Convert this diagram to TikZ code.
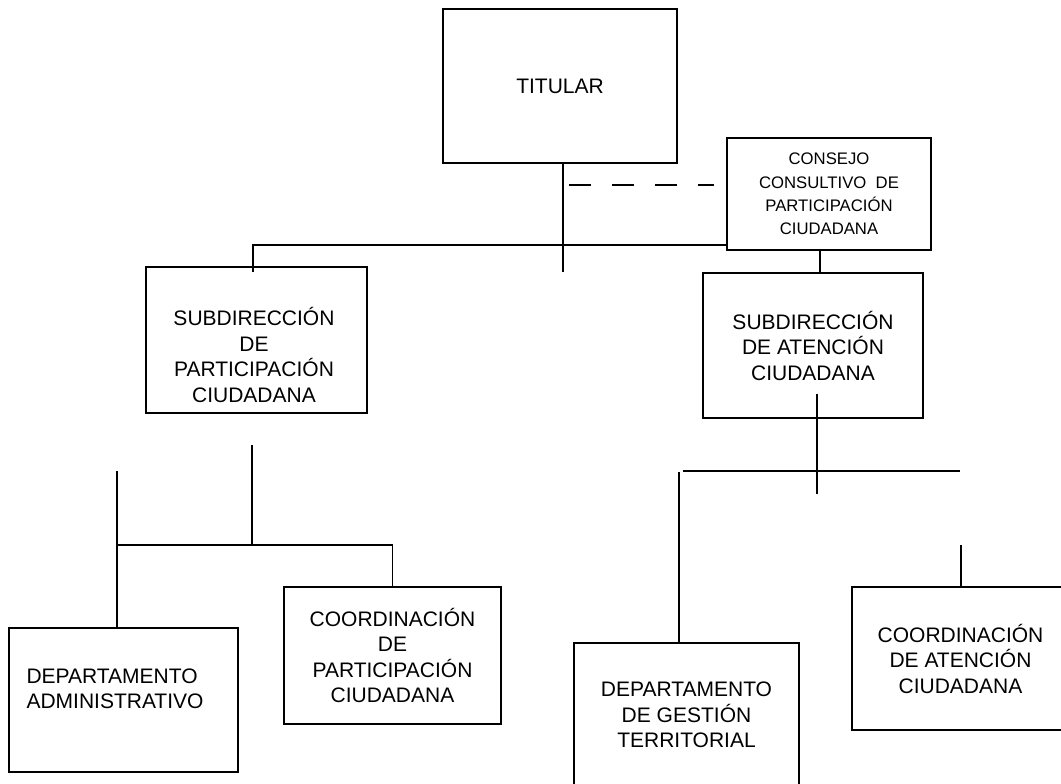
\documentclass[tikz,border=0pt]{standalone}
\usepackage{fontspec}
\setmainfont{Liberation Sans}
\begin{document}
\begin{tikzpicture}[x=1pt,y=-1pt,line width=1.4pt,
    caja/.style={draw,rectangle,inner sep=0pt,align=center,
      font=\fontsize{21}{25.5}\selectfont},
    texto/.style={inner sep=0pt,font=\fontsize{21}{25.5}\selectfont},
    rayas/.style={dash pattern=on 22pt off 21pt}]
  \useasboundingbox (0,0) rectangle (1061,784);
  \clip (0,0) rectangle (1061,784);

  % Cajas del organigrama
  \node[caja,minimum width=234pt,minimum height=154pt] (titular) at (560,86) {TITULAR};
  \node[caja,minimum width=204pt,minimum height=112pt,
    font=\fontsize{16.7}{23.3}\selectfont] (consejo) at (829,194)
    {CONSEJO\\CONSULTIVO\ \ DE\\PARTICIPACIÓN\\CIUDADANA};
  \node[caja,minimum width=221pt,minimum height=146pt] (subPart) at (256.5,340) {};
  \node[texto,align=center] (subPartTxt) at (254,355)
    {SUBDIRECCIÓN\\DE\\PARTICIPACIÓN\\CIUDADANA};
  \node[caja,minimum width=220pt,minimum height=145pt] (subAten) at (813,345.5)
    {SUBDIRECCIÓN\\DE ATENCIÓN\\CIUDADANA};
  \node[caja,minimum width=229pt,minimum height=144pt] (deptAdm) at (123.5,700) {};
  \node[texto,align=left] (deptAdmTxt) at (115,689)
    {DEPARTAMENTO\\ADMINISTRATIVO};
  \node[caja,minimum width=217pt,minimum height=137pt] (coordPart) at (392.5,655.5)
    {COORDINACIÓN\\DE\\PARTICIPACIÓN\\CIUDADANA};
  \node[caja,minimum width=225pt,minimum height=144pt] (deptGest) at (686.5,715)
    {DEPARTAMENTO\\DE GESTIÓN\\TERRITORIAL};
  \node[caja,minimum width=217pt,minimum height=143pt] (coordAten) at (960.5,658.5)
    {COORDINACIÓN\\DE ATENCIÓN\\CIUDADANA};

  % Lineas de mando
  \coordinate (finTit) at (563,272);
  \draw (titular.south -| finTit) -- (finTit);
  \coordinate (esq) at (253,245);
  \draw (consejo.west |- esq) -- (esq) -- (esq |- subPart.north) -- ++(0,6);
  \coordinate (iniRaya) at (569,185);
  \draw[rayas,shorten >=12pt] (iniRaya) -- (iniRaya -| consejo.west);
  \coordinate (bajaCons) at ([xshift=-9pt]consejo.south);
  \draw (bajaCons) -- (bajaCons |- subAten.north);

  % Ramas de participacion
  \coordinate (p1) at (252,445);
  \coordinate (j1) at (252,545);
  \coordinate (p2) at (117,471);
  \draw (p1) -- (j1);
  \draw (p2) -- (p2 |- deptAdm.north);
  \draw (p2 |- j1) -- (j1 -| coordPart.north) -- (coordPart.north);

  % Ramas de atencion
  \coordinate (q1) at (817,394);
  \coordinate (q2) at (817,494);
  \draw (q1) -- (q2);
  \coordinate (h1) at (683,471);
  \coordinate (h2) at (960,471);
  \draw (h1) -- (h2);
  \coordinate (v1) at (679,472);
  \draw (v1) -- (v1 |- deptGest.north);
  \coordinate (v2) at (961,545);
  \draw (v2) -- (v2 |- coordAten.north);
\end{tikzpicture}
\end{document}
